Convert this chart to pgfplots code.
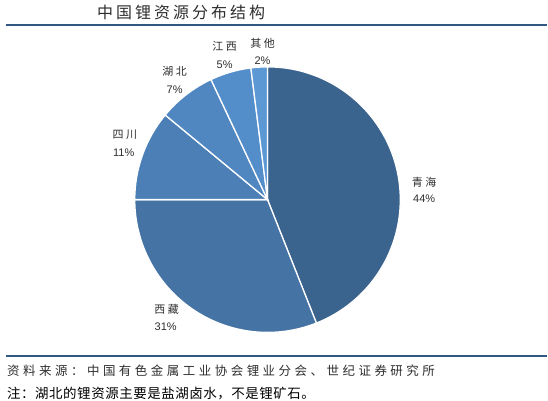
\documentclass[border=0pt]{standalone}
\usepackage{fontspec}
\setmainfont{Liberation Sans}
\newfontfamily\cjktitle[LetterSpace=19]{Noto Sans CJK SC}
\newfontfamily\cjklab[LetterSpace=23]{Noto Sans CJK SC}
\newfontfamily\cjksrc[LetterSpace=28]{Noto Sans CJK SC}
\newfontfamily\cjknote[LetterSpace=4]{Noto Sans CJK SC}
\usepackage{pgfplots}
\pgfplotsset{compat=1.18}

\definecolor{sQH}{RGB}{58,99,142}
\definecolor{sXZ}{RGB}{68,115,164}
\definecolor{sSC}{RGB}{75,127,182}
\definecolor{sHB}{RGB}{80,135,193}
\definecolor{sJX}{RGB}{84,142,202}
\definecolor{sQT}{RGB}{92,152,212}
\definecolor{rule}{RGB}{47,88,130}
\definecolor{txt}{RGB}{45,45,45}

% pie centre and radius, in pixels of the reference
\def\cx{268}
\def\cy{201}
\def\R{133bp}

\begin{document}
\begin{tikzpicture}
\begin{axis}[
    x=1bp, y=1bp,
    xmin=0, xmax=548, ymin=0, ymax=401,
    scale only axis, hide axis, clip=false,
  ]
  \path (axis cs:0,0) rectangle (axis cs:548,401);

  % shares in percent: 44, 31, 11, 7, 5, 2 (clockwise from 12 o'clock)
  \filldraw[fill=sQH, draw=white, line width=1.3pt] (axis cs:\cx,\cy) -- ++({90}:\R)
    arc[start angle=90, delta angle={-3.6*44}, radius=\R] -- cycle;
  \filldraw[fill=sXZ, draw=white, line width=1.3pt] (axis cs:\cx,\cy) -- ++({90-3.6*44}:\R)
    arc[start angle={90-3.6*44}, delta angle={-3.6*31}, radius=\R] -- cycle;
  \filldraw[fill=sSC, draw=white, line width=1.3pt] (axis cs:\cx,\cy) -- ++({90-3.6*75}:\R)
    arc[start angle={90-3.6*75}, delta angle={-3.6*11}, radius=\R] -- cycle;
  \filldraw[fill=sHB, draw=white, line width=1.3pt] (axis cs:\cx,\cy) -- ++({90-3.6*86}:\R)
    arc[start angle={90-3.6*86}, delta angle={-3.6*7}, radius=\R] -- cycle;
  \filldraw[fill=sJX, draw=white, line width=1.3pt] (axis cs:\cx,\cy) -- ++({90-3.6*93}:\R)
    arc[start angle={90-3.6*93}, delta angle={-3.6*5}, radius=\R] -- cycle;
  \filldraw[fill=sQT, draw=white, line width=1.3pt] (axis cs:\cx,\cy) -- ++({90-3.6*98}:\R)
    arc[start angle={90-3.6*98}, delta angle={-3.6*2}, radius=\R] -- cycle;

  % slice labels
  \tikzset{nm/.style={font=\cjklab\fontsize{11bp}{12bp}\selectfont, text=txt, inner sep=0pt},
           pc/.style={font=\fontsize{11bp}{12bp}\selectfont, text=txt, inner sep=0pt}}
  \node[nm] at (axis cs:425,218) {青海};
  \node[pc] at (axis cs:425,202) {44\%};
  \node[nm] at (axis cs:167,91) {西藏};
  \node[pc] at (axis cs:166,74) {31\%};
  \node[nm] at (axis cs:125,266) {四川};
  \node[pc] at (axis cs:124,248) {11\%};
  \node[nm] at (axis cs:175,329) {湖北};
  \node[pc] at (axis cs:175,311) {7\%};
  \node[nm] at (axis cs:225,355) {江西};
  \node[pc] at (axis cs:225,336) {5\%};
  \node[nm] at (axis cs:263,358) {其他};
  \node[pc] at (axis cs:263,340) {2\%};

  % title and rules
  \node[anchor=west, inner sep=0pt, text=txt, font=\cjktitle\fontsize{16bp}{18bp}\selectfont]
    at (axis cs:97,389) {中国锂资源分布结构};
  \draw[rule, line width=2bp] (axis cs:6,376) -- (axis cs:548,376);
  \draw[rule, line width=2bp] (axis cs:6,44.5) -- (axis cs:548,44.5);

  % source and note
  \node[anchor=west, inner sep=0pt, text=txt, font=\cjksrc\fontsize{12.5bp}{14bp}\selectfont]
    at (axis cs:7,30) {资料来源：中国有色金属工业协会锂业分会、世纪证券研究所};
  \node[anchor=west, inner sep=0pt, text=black, font=\cjknote\fontsize{13.5bp}{15bp}\selectfont]
    at (axis cs:7,7) {注：湖北的锂资源主要是盐湖卤水，不是锂矿石。};
\end{axis}
\end{tikzpicture}
\end{document}
